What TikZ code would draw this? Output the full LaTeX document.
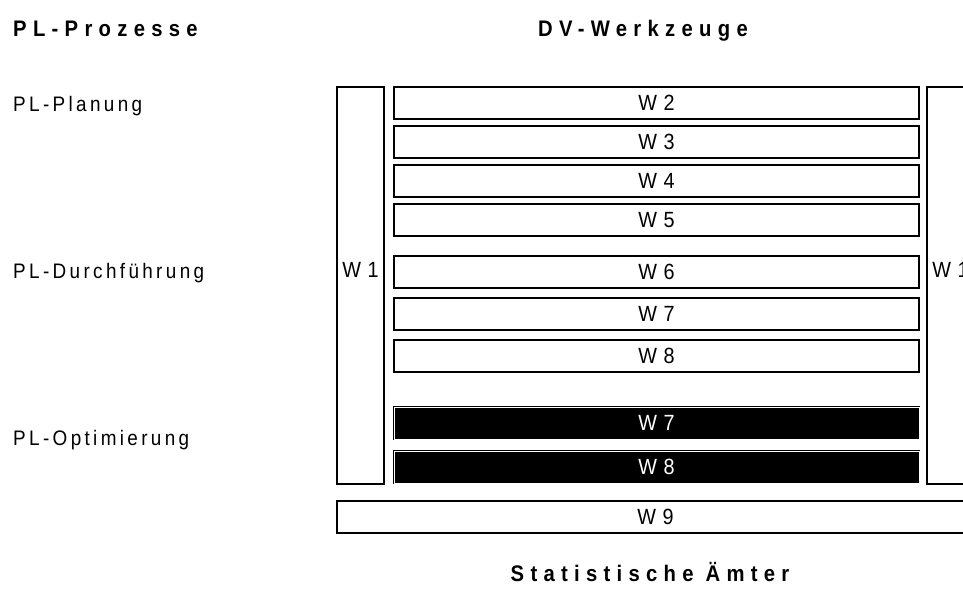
\documentclass[tikz,border=0pt]{standalone}
\usepackage{fontspec}
\setmainfont{Liberation Sans}
\newfontfamily\labfont[FakeStretch=0.9, LetterSpace=16]{Liberation Sans}
\newfontfamily\boxfont[FakeStretch=0.9, LetterSpace=4]{Liberation Sans}
\newfontfamily\headfont[FakeStretch=0.9, LetterSpace=28]{Liberation Sans}
\usetikzlibrary{positioning}
\tikzset{
  toolbox/.style={draw, line width=1.3pt, minimum width=525pt, minimum height=32pt,
    inner sep=0pt, outer sep=0pt, font=\fontsize{22}{26}\selectfont\boxfont},
  darkbox/.style={toolbox, fill=black, text=white, line width=0.7pt,
    double=white, double distance=0.8pt},
  sidebox/.style={toolbox, minimum width=47pt, minimum height=397pt},
  sidelab/.style={font=\fontsize{22}{26}\selectfont\boxfont, inner sep=0pt},
  proclab/.style={font=\fontsize{21}{25}\selectfont\labfont, anchor=base west, inner sep=0pt},
  headlab/.style={font=\fontsize{22.5}{27}\selectfont\headfont\bfseries, anchor=base, inner sep=0pt},
}
\begin{document}
\begin{tikzpicture}[x=1pt, y=-1pt, node distance=7pt]
\clip (0,0) rectangle (963,596);
\fill[white] (0,0) rectangle (963,596);
% --- headings ---
\node[headlab, anchor=base west] (proz) at (13,37) {PL-Prozesse};
\node[headlab, anchor=base west] (werkz) at (538,37) {DV-Werkzeuge};
\node[headlab] (aemter) at (650,581) {Statistische Ämter};
% --- process phases ---
\node[proclab] (plan) at (13,112) {PL-Planung};
\node[proclab] (durch) at (13,278) {PL-Durchführung};
\node[proclab] (optim) at (13,445) {PL-Optimierung};
% --- tools ---
\node[toolbox] (w2) at (656.5,103) {W 2};
\node[toolbox, below=of w2] (w3) {W 3};
\node[toolbox, below=of w3] (w4) {W 4};
\node[toolbox, below=of w4] (w5) {W 5};
\node[toolbox, below=20pt of w5] (w6) {W 6};
\node[toolbox, below=10pt of w6] (w7) {W 7};
\node[toolbox, below=10pt of w7] (w8) {W 8};
\node[darkbox, below=35pt of w8] (w7opt) {W 7};
\node[darkbox, below=12pt of w7opt] (w8opt) {W 8};
% --- frame tools ---
\node[sidebox, anchor=north west] (w1left) at (337,87) {};
\node[sidebox, anchor=north west] (w1right) at (927,87) {};
\node[sidelab] (w1leftlab) at ([yshift=2pt]w1left.center |- w6) {W 1};
\node[sidelab] (w1rightlab) at ([yshift=2pt]w1right.center |- w6) {W 1};
\node[toolbox, minimum width=637pt, anchor=north west] (w9) at (337,501) {W 9};
\end{tikzpicture}
\end{document}
